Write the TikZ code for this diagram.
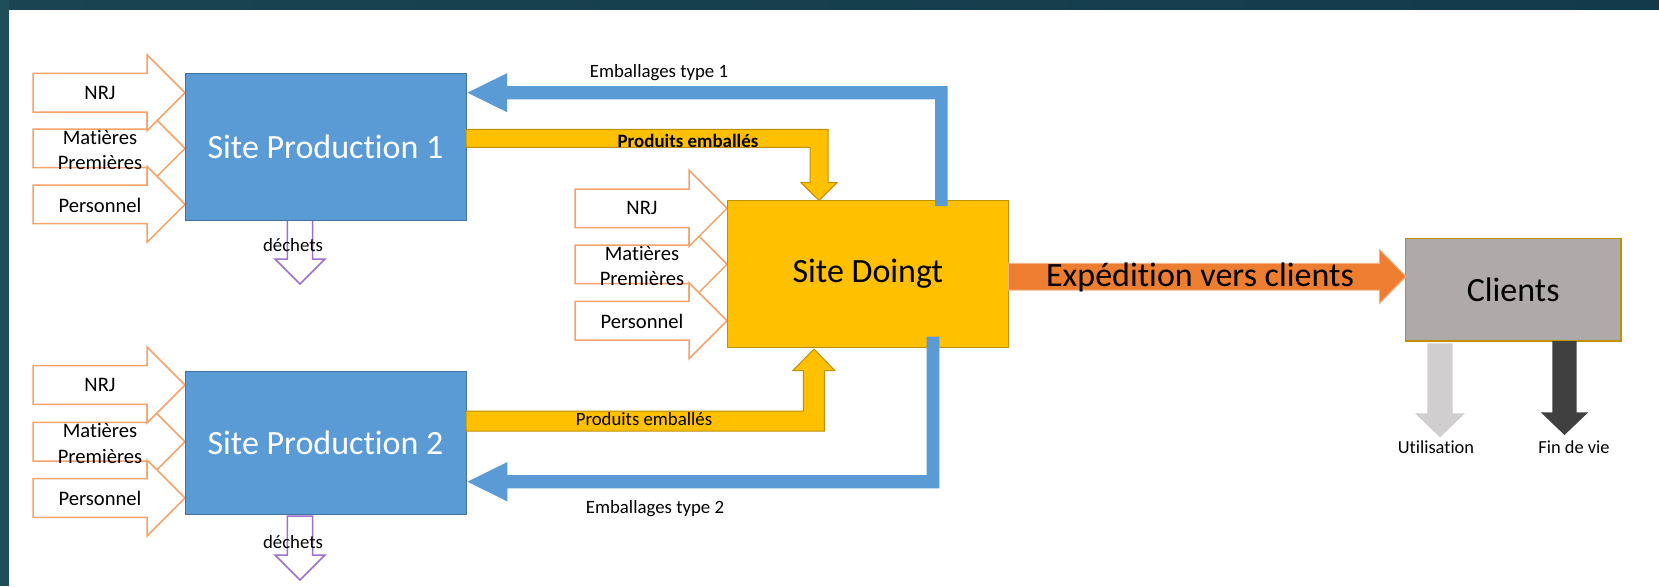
\documentclass[tikz,border=0pt]{standalone}
\usepackage{fontspec}
\setmainfont{Carlito}[Ligatures=NoCommon]
\definecolor{blueF}{HTML}{5B9BD5}
\definecolor{blueD}{HTML}{41719C}
\definecolor{yel}{HTML}{FFC000}
\definecolor{yelD}{HTML}{BF9000}
\definecolor{inor}{HTML}{F5A26B}
\definecolor{purp}{HTML}{A070CC}
\definecolor{exor}{HTML}{ED7D31}
\definecolor{exorL}{HTML}{F4B183}
\definecolor{cgray}{HTML}{AEAAAA}
\definecolor{ugray}{HTML}{D0CECE}
\definecolor{dgray}{HTML}{404040}
\definecolor{frameA}{HTML}{1A4451}
\definecolor{frameB}{HTML}{3A7168}
\definecolor{frameC}{HTML}{133A4B}
\definecolor{frameL}{HTML}{1D4E59}
\newcommand\inarr[2]{\draw[inarrow] (#1-152,#2-19.3) -- (#1-38,#2-19.3) -- (#1-38,#2-38) -- (#1,#2) -- (#1-38,#2+38) -- (#1-38,#2+19.3) -- (#1-152,#2+19.3) -- cycle;}
\newcommand\decharr[2]{\draw[decharrow] (#1-12.7,#2) -- (#1+12.7,#2) -- (#1+12.7,#2+39) -- (#1+25,#2+39) -- (#1,#2+64) -- (#1-25,#2+39) -- (#1-12.7,#2+39) -- cycle;}
\tikzset{
  site/.style={draw=blueD, fill=blueF, line width=0.5pt, text=white, font=\fontsize{17}{20}\selectfont, inner sep=0pt, outer sep=0pt, minimum width=140.5pt},
  doingtbox/.style={draw=yelD, fill=yel, line width=0.5pt, text=black, font=\fontsize{17}{20}\selectfont, inner sep=0pt, outer sep=0pt},
  clientbox/.style={draw=yelD, fill=cgray, line width=0.6pt, text=black, font=\fontsize{17}{20}\selectfont, inner sep=0pt, outer sep=0pt},
  inarrow/.style={draw=inor, fill=white, line width=0.75pt, line join=miter},
  decharrow/.style={draw=purp, fill=white, line width=0.75pt, line join=miter},
  bluearrow/.style={fill=blueF},
  yelarrow/.style={fill=yel, draw=yelD, line width=0.5pt},
  inlab/.style={font=\fontsize{10.3}{12.6}\selectfont, align=center, inner sep=0pt},
  smalllab/.style={font=\fontsize{9.4}{11}\selectfont, inner sep=0pt},
}
\begin{document}
\begin{tikzpicture}[x=0.5pt,y=-0.5pt]
\useasboundingbox (0,0) rectangle (1659,586);
% frame
\fill[white] (0,0) rectangle (1659,586);
\shade[left color=frameA, middle color=frameB, right color=frameC] (0,0) rectangle (1659,9);
\fill[frameL] (0,0) rectangle (9,586);

% input arrows Site Production 1
\inarr{185}{148.3}
\inarr{185}{92.7}
\inarr{185}{204.3}
% input arrows Site Production 2
\inarr{185}{441.7}
\inarr{185}{385}
\inarr{185}{498}
% input arrows Site Doingt
\inarr{727}{264.3}
\inarr{727}{208.3}
\inarr{727}{320.7}

% waste arrows
\decharr{300}{220}
\decharr{300}{516}

% boxes
\node[site, minimum height=73.5pt] (sp1) at (325.5,146.5) {Site Production 1};
\node[site, minimum height=71.5pt] (sp2) at (325.5,442.5) {Site Production 2};
\node[doingtbox, minimum width=140.5pt, minimum height=73.25pt] (doingt) at (867.8,274.2) {Site Doingt};
\node[clientbox, minimum width=107.85pt, minimum height=51.35pt] (clients) at (1513.2,289.7) {Clients};

% produits emballes (yellow)
\filldraw[yelarrow] (466,129.3) -- (828,129.3) -- (828,182.7) -- (837,182.7) -- (819,200.5) -- (801,182.7) -- (810,182.7) -- (810,147.3) -- (466,147.3) -- cycle;
\filldraw[yelarrow] (466,431) -- (824.3,431) -- (824.3,370.7) -- (835,370.7) -- (814,349) -- (792.7,370.7) -- (803.3,370.7) -- (803.3,411) -- (466,411) -- cycle;

% emballages (blue)
\fill[bluearrow] (935,206) -- (935,99.3) -- (507,99.3) -- (507,112.2) -- (467.5,92.7) -- (507,73.2) -- (507,86) -- (947.7,86) -- (947.7,206) -- cycle;
\fill[bluearrow] (939.3,336.7) -- (939.3,488.3) -- (507.3,488.3) -- (507.3,501.4) -- (467.5,481.7) -- (507.3,462) -- (507.3,475) -- (926.7,475) -- (926.7,336.7) -- cycle;

% expedition
\filldraw[fill=exor, draw=exorL, line width=0.5pt] (1008.3,263.3) -- (1379.3,263.3) -- (1379.3,249.3) -- (1406,276.5) -- (1379.3,303.5) -- (1379.3,290) -- (1008.3,290) -- cycle;

% client outputs
\fill[ugray] (1427.3,343.3) -- (1452.7,343.3) -- (1452.7,413.3) -- (1465,413.3) -- (1440,437.3) -- (1415,413.3) -- (1427.3,413.3) -- cycle;
\fill[dgray] (1552.3,341) -- (1576.7,341) -- (1576.7,412.3) -- (1588.3,412.3) -- (1564.5,435) -- (1540.7,412.3) -- (1552.3,412.3) -- cycle;

% labels of input arrows
\node[inlab] (n1) at (100,92.7) {NRJ};
\node[inlab] (m1) at (100,150) {Matières\\Premières};
\node[inlab] (p1) at (100,205) {Personnel};
\node[inlab] (n2) at (100,385) {NRJ};
\node[inlab] (m2) at (100,443.5) {Matières\\Premières};
\node[inlab] (p2) at (100,498.5) {Personnel};
\node[inlab] (n3) at (642,208.3) {NRJ};
\node[inlab] (m3) at (642,266) {Matières\\Premières};
\node[inlab] (p3) at (642,321.5) {Personnel};

% other labels
\node[smalllab] (d1) at (293,245) {déchets};
\node[smalllab] (d2) at (293,542) {déchets};
\node[smalllab] (e1) at (659,72.3) {Emballages type 1};
\node[smalllab] (e2) at (655,509) {Emballages type 2};
\node[smalllab, font=\bfseries\fontsize{9.45}{11}\selectfont] (pe1) at (688,141) {Produits emballés};
\node[smalllab] (pe2) at (644,419.3) {Produits emballés};
\node[inner sep=0pt, font=\fontsize{17}{20}\selectfont] (exp) at (1200,277.7) {Expédition vers clients};
\node[smalllab, font=\fontsize{9.2}{11}\selectfont] (util) at (1436,447.3) {Utilisation};
\node[smalllab, font=\fontsize{9.2}{11}\selectfont] (fdv) at (1574,447.3) {Fin de vie};
\end{tikzpicture}
\end{document}
